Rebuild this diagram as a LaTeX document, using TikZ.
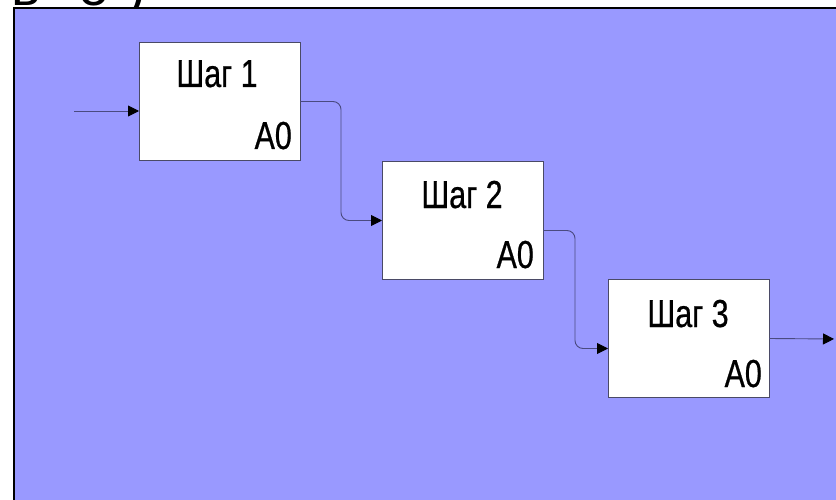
\documentclass[tikz,border=0pt]{standalone}
\usepackage{fontspec}
\setmainfont{Liberation Sans}
\newfontfamily\narrowsans[FakeStretch=0.78, FakeBold=0.6]{Liberation Sans}
\usetikzlibrary{arrows.meta}
\definecolor{panel}{HTML}{9999FF}
\definecolor{wire}{HTML}{4A4A80}
\definecolor{boxline}{HTML}{4A4A66}
\tikzset{
  stepbox/.style={draw=boxline, line width=0.9pt, fill=white, minimum width=161pt, minimum height=118pt, inner sep=0pt, outer sep=0pt},
  steptitle/.style={font=\narrowsans\fontsize{39}{39}\selectfont, anchor=base, inner sep=0pt},
  stepcode/.style={font=\narrowsans\fontsize{39}{39}\selectfont, anchor=base east, inner sep=0pt},
  wirearrow/.style={draw=wire, line width=0.9pt, rounded corners=8pt, -{Triangle[length=11pt, width=11pt, fill=black, color=black]}},
}
\begin{document}
\begin{tikzpicture}[x=1pt, y=-1pt]
  \useasboundingbox (0,0) rectangle (836,500);
  \clip (0,0) rectangle (836,500);
  \fill[white] (0,0) rectangle (836,500);
  % heading, running off the top edge
  \begin{scope}
    \clip (0,0) rectangle (836,7);
    \node[font=\fontsize{56}{56}\selectfont, anchor=base west, inner sep=0pt] (head) at (11,6) {ь\hspace{38pt}о\hspace{18pt})};
  \end{scope}
  % panel
  \fill[panel] (14,8) rectangle (900,600);
  \draw[black, line width=2pt] (14,600) -- (14,8) -- (900,8);
  % steps
  \node[stepbox] (s1) at (219.5,101.5) {};
  \node[stepbox] (s2) at (462.5,220.5) {};
  \node[stepbox] (s3) at (688.5,338.5) {};
  \node[steptitle] (t1) at (217,87) {Шаг 1};
  \node[steptitle] (t2) at (462,208) {Шаг 2};
  \node[steptitle] (t3) at (688,327) {Шаг 3};
  \node[stepcode] (c1) at (292,149) {A0};
  \node[stepcode] (c2) at (534,268) {A0};
  \node[stepcode] (c3) at (762,387) {A0};
  % connectors
  \coordinate (in) at (74,111);
  \coordinate (out) at (834,339);
  \draw[wirearrow] (in) -- (in -| s1.west);
  \draw[wirearrow] (s1.east) -- (341,101.5) -- (341,220.5) -- (s2.west);
  \draw[wirearrow] ([yshift=-10pt]s2.east) -- (575,230.5) -- (575,348.5) -- ([yshift=-10pt]s3.west);
  \draw[wirearrow] (s3.east) -- (out);
\end{tikzpicture}
\end{document}
